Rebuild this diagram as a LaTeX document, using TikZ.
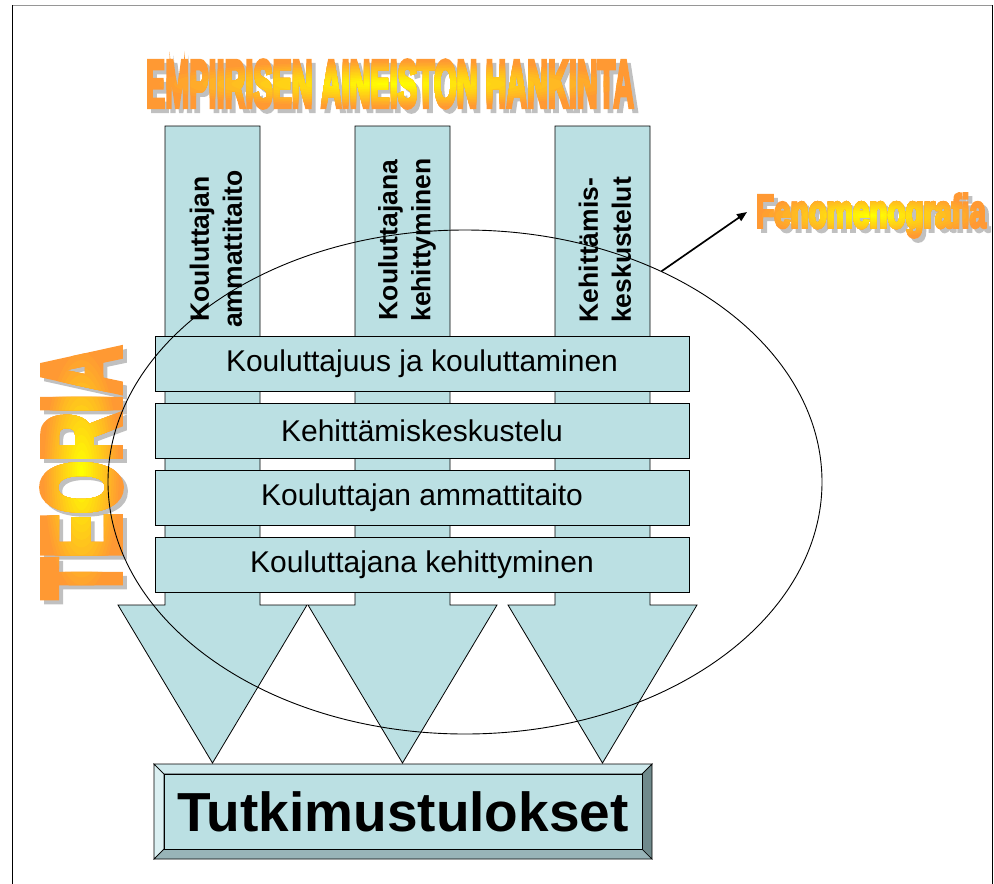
\documentclass[tikz,border=0pt]{standalone}
\usepackage{fontspec}
\setmainfont{Liberation Sans}
\newfontfamily\wafont{Liberation Sans}[BoldFeatures={FakeBold=6}]
\usepackage{graphicx}
\usetikzlibrary{shapes.geometric,arrows.meta}

\definecolor{boxfill}{RGB}{187,224,227}
\definecolor{bevtop}{RGB}{206,233,236}
\definecolor{bevleft}{RGB}{219,240,242}
\definecolor{bevbot}{RGB}{152,180,184}
\definecolor{bevright}{RGB}{112,138,140}
\definecolor{waorange}{RGB}{255,153,51}
\definecolor{wayellow}{RGB}{255,255,0}
\definecolor{wagray}{RGB}{192,192,192}
\definecolor{topline}{RGB}{150,150,150}

\newcommand\hfont{\fontsize{30pt}{34pt}\selectfont}
\newcommand\vfont{\bfseries\fontsize{26.5pt}{33pt}\selectfont}
\newcommand\rfont{\bfseries\fontsize{55pt}{60pt}\selectfont}

% Word-art text: grey drop shadow, then the word filled with a stepped
% radial gradient (yellow centre, orange rim) built from clipped copies.
% #1 name, #2 x, #3 y, #4 half width, #5 half height, #6 rotation, #7 text
\newcommand\wordart[7]{%
  \node[wanode, text=wagray, rotate=#6] at (#2+4,#3+4) {#7};
  \node[wanode, text=waorange, rotate=#6] (#1) at (#2,#3) {#7};
  \foreach \k in {1,...,16}{%
    \pgfmathsetmacro\warx{#4*(1-\k/17)}%
    \pgfmathsetmacro\wary{#5*(1-\k/17)}%
    \pgfmathtruncatemacro\wap{100*\k/16}%
    \begin{scope}
      \clip (#2,#3) ellipse [x radius=\warx pt, y radius=\wary pt];
      \node[wanode, text=wayellow!\wap!waorange, rotate=#6] at (#2,#3) {#7};
    \end{scope}
  }%
}

\begin{document}
\begin{tikzpicture}[x=1pt,y=-1pt,
    wanode/.style={inner sep=0pt, outer sep=0pt},
    arrowshape/.style={fill=boxfill, draw=black, line width=0.8pt, line join=miter},
    hbox/.style={draw=black, line width=0.8pt, fill=boxfill, minimum width=534pt,
      minimum height=55pt, inner sep=0pt, font=\hfont},
    vtext/.style={rotate=90, align=center, inner sep=0pt, font=\vfont},
    bevel/.style={draw=black, line width=0.7pt, line join=miter}]
  \useasboundingbox (0,0) rectangle (994,884);

  % page frame
  \draw[topline, line width=1.5pt] (12,5.5) -- (993,5.5);
  \draw[line width=1.6pt] (12.5,5) -- (12.5,884);
  \draw[line width=1.6pt] (992.5,5) -- (992.5,884);

  % three block arrows pointing down to the results
  \foreach \cx in {212.5,402.5,602.5}{
    \filldraw[arrowshape] (\cx-47.5,126) -- (\cx+47.5,126) -- (\cx+47.5,605)
      -- (\cx+94.5,605) -- (\cx,763) -- (\cx-94.5,605) -- (\cx-47.5,605) -- cycle;
  }

  % horizontal theme bars
  \node[hbox] (b1) at (422,363.5) {Kouluttajuus ja kouluttaminen};
  \node[hbox] (b2) at (422,430.5) {Kehittämiskeskustelu};
  \node[hbox] (b3) at (422,497.5) {Kouluttajan ammattitaito};
  \node[hbox] (b4) at (422,564.5) {Kouluttajana kehittyminen};

  % labels in the arrow shafts
  \node[vtext] (v1) at (216,249) {Kouluttajan\\ammattitaito};
  \node[vtext] (v2) at (407,240) {Kouluttajana\\kehittyminen};
  \node[vtext] (v3) at (605,250) {Kehittämis-\\keskustelut};

  % bevelled results box
  \coordinate (o1) at (154,764);
  \coordinate (o2) at (652,764);
  \coordinate (o3) at (652,859);
  \coordinate (o4) at (154,859);
  \coordinate (i1) at (164,774);
  \coordinate (i2) at (642,774);
  \coordinate (i3) at (642,849);
  \coordinate (i4) at (164,849);
  \filldraw[bevel, fill=bevtop] (o1) -- (o2) -- (i2) -- (i1) -- cycle;
  \filldraw[bevel, fill=bevleft] (o1) -- (i1) -- (i4) -- (o4) -- cycle;
  \filldraw[bevel, fill=bevbot] (o4) -- (i4) -- (i3) -- (o3) -- cycle;
  \filldraw[bevel, fill=bevright] (o2) -- (o3) -- (i3) -- (i2) -- cycle;
  \node[draw=black, line width=0.7pt, fill=boxfill, minimum width=478pt,
    minimum height=75pt, inner sep=0pt, font=\rfont] (res) at (403,811.5) {Tutkimustulokset};

  % word-art headings
  \wordart{title}{390}{84}{245}{24}{0}{\resizebox{488pt}{47pt}{\wafont\bfseries EMPIIRISEN AINEISTON HANKINTA}}
  \wordart{teoria}{81.5}{472.5}{39.5}{127.5}{90}{\resizebox{253pt}{77pt}{\wafont\bfseries TEORIA}}
  \wordart{feno}{871}{215.5}{116}{22.5}{0}{\resizebox{230pt}{34pt}{\wafont\bfseries Fenomenografia}}

  % ellipse around the analysis and the pointer to the method
  \node[ellipse, draw=black, line width=0.9pt, minimum width=714pt,
    minimum height=504pt, inner sep=0pt] (ring) at (465,482) {};
  \coordinate (fenotip) at (747,212);
  \draw[line width=1.7pt, -{Triangle[length=10pt,width=8pt]}] (ring.47.7) -- (fenotip);
\end{tikzpicture}
\end{document}
